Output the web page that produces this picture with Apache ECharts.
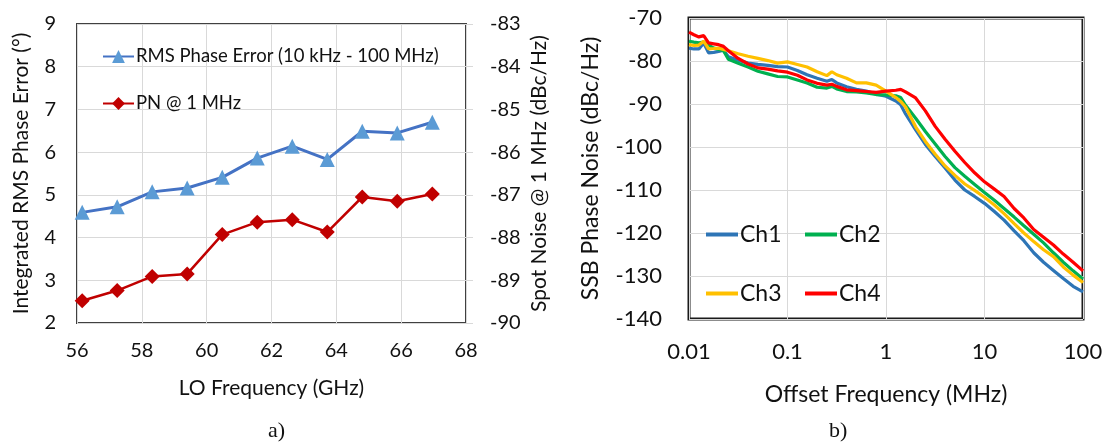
<!DOCTYPE html>
<html>
<head>
<meta charset="utf-8">
<script src="https://cdn.jsdelivr.net/npm/echarts@6/dist/echarts.min.js"></script>
<style>
  html, body { margin: 0; padding: 0; background: #fff; }
  #chart { width: 1110px; height: 448px; }
</style>
</head>
<body>
<div id="chart"></div>
<script>
// ---- a) RMS phase error and spot noise versus LO frequency ----
const loFreqGHz = [56.16, 57.24, 58.32, 59.40, 60.48, 61.56, 62.64, 63.72, 64.80, 65.88, 66.96];
const rmsPhaseErrDeg = [4.59, 4.72, 5.07, 5.16, 5.41, 5.86, 6.14, 5.83, 6.49, 6.45, 6.70];
const pnAt1MHz = [-89.48, -89.24, -88.91, -88.85, -87.93, -87.64, -87.58, -87.87, -87.05, -87.15, -86.98];

// ---- b) SSB phase noise of the four channels ----
const offsetMHz = [0.01, 0.0112, 0.0126, 0.0141, 0.0158, 0.0178, 0.02, 0.0224, 0.0251, 0.0316,
  0.0398, 0.0501, 0.0631, 0.0794, 0.1, 0.126, 0.158, 0.2, 0.251, 0.282,
  0.316, 0.398, 0.501, 0.631, 0.794, 1, 1.26, 1.41, 1.58, 2.0,
  2.51, 3.16, 3.98, 5.01, 6.31, 7.94, 10, 12.6, 15.8, 20,
  25.1, 31.6, 39.8, 50.1, 63.1, 79.4, 100];
const ch1 = [-77.0, -77.2, -77.2, -75.8, -78.1, -78.0, -77.8, -77.5, -79.0, -79.8,
  -80.5, -80.8, -81.0, -81.3, -81.4, -82.2, -83.2, -84.0, -84.7, -84.3,
  -85.1, -86.0, -86.6, -87.0, -87.7, -88.2, -89.3, -90.2, -92.3, -96.0,
  -99.4, -102.2, -104.9, -107.7, -110.0, -111.5, -113.1, -115.0, -117.0, -119.5,
  -121.8, -124.6, -126.8, -128.7, -130.6, -132.4, -133.7];
const ch2 = [-75.4, -75.6, -75.8, -75.6, -76.3, -77.0, -77.3, -77.6, -79.6, -80.5,
  -81.4, -82.4, -83.0, -83.6, -83.7, -84.4, -85.1, -86.1, -86.3, -85.9,
  -86.5, -87.1, -87.2, -87.4, -87.8, -87.9, -88.1, -88.5, -90.3, -93.3,
  -96.4, -99.3, -102.2, -104.8, -106.8, -108.7, -110.6, -112.4, -114.3, -116.3,
  -118.3, -120.3, -122.3, -124.6, -126.8, -128.8, -130.7];
const ch3 = [-76.2, -76.4, -76.3, -75.4, -77.2, -77.1, -77.0, -77.3, -77.6, -78.3,
  -78.9, -79.4, -79.9, -80.5, -80.2, -80.8, -81.4, -82.5, -83.4, -82.5,
  -83.2, -84.0, -85.1, -85.1, -85.6, -87.0, -88.5, -89.4, -90.7, -95.3,
  -98.7, -101.7, -104.4, -106.6, -108.6, -110.1, -111.7, -113.5, -115.5, -117.8,
  -120.0, -122.0, -123.9, -125.5, -127.9, -129.8, -131.5];
const ch4 = [-73.3, -73.9, -74.4, -74.1, -75.8, -76.0, -76.2, -76.6, -77.6, -79.4,
  -80.7, -81.6, -81.9, -82.3, -82.6, -83.3, -84.4, -85.2, -85.6, -85.4,
  -85.9, -86.7, -86.9, -87.1, -87.3, -87.0, -86.8, -86.6, -87.2, -88.6,
  -91.6, -95.2, -98.2, -101.0, -103.6, -106.0, -108.1, -109.8, -111.5, -114.3,
  -116.5, -119.2, -121.0, -122.8, -124.9, -126.8, -128.8];

const FONT = 'Lato, "Open Sans", sans-serif';
const TEXT = '#111';
const GRID_LINE = { show: true, lineStyle: { color: '#d9d9d9', width: 1 } };

const pairs = (xs, ys) => xs.map((x, i) => [x, ys[i]]);

const chart = echarts.init(document.getElementById('chart'), null, { renderer: 'canvas' });

// legend entry with line + marker (panel a)
const markerLegend = (name, left, top) => ({
  data: [name], left: left, top: top, orient: 'horizontal',
  itemWidth: 31, itemHeight: 16, selectedMode: false,
  textStyle: { fontFamily: FONT, fontSize: 18.5, color: TEXT, padding: [0, 0, 0, -3] }
});
// legend entry with a plain line swatch (panel b)
const lineLegend = (name, left, top) => ({
  data: [name], left: left, top: top, orient: 'horizontal',
  icon: 'rect', itemWidth: 32, itemHeight: 4, selectedMode: false,
  textStyle: { fontFamily: FONT, fontSize: 23, color: TEXT, padding: [0, 0, 0, -3] }
});

chart.setOption({
  animation: false,
  grid: [
    { left: 77, top: 24, width: 389, height: 299, show: true,
      borderColor: '#404040', borderWidth: 2, backgroundColor: '#fff' },
    { left: 689, top: 18, width: 394, height: 301, show: true,
      borderColor: '#1a1a1a', borderWidth: 3, backgroundColor: '#fff' }
  ],
  legend: [
    markerLegend('RMS Phase Error (10 kHz - 100 MHz)', 97, 42),
    markerLegend('PN @ 1 MHz', 97, 89),
    lineLegend('Ch1', 701, 218),
    lineLegend('Ch2', 800, 218),
    lineLegend('Ch3', 701, 277),
    lineLegend('Ch4', 800, 277)
  ],
  xAxis: [
    { type: 'value', gridIndex: 0, min: 56, max: 68, interval: 2,
      name: 'LO Frequency (GHz)', nameLocation: 'middle', nameGap: 55,
      nameTextStyle: { fontFamily: FONT, fontSize: 21, color: TEXT },
      axisLine: { show: false }, axisTick: { show: false },
      axisLabel: { fontFamily: FONT, fontSize: 20, color: TEXT, margin: 18 },
      splitLine: GRID_LINE },
    { type: 'log', gridIndex: 1, logBase: 10, min: 0.01, max: 100,
      name: 'Offset Frequency (MHz)', nameLocation: 'middle', nameGap: 64,
      nameTextStyle: { fontFamily: FONT, fontSize: 23, color: TEXT },
      axisLine: { show: false }, axisTick: { show: false },
      axisLabel: { fontFamily: FONT, fontSize: 22, color: TEXT, margin: 22,
        formatter: v => String(Number(v.toPrecision(3))) },
      splitLine: GRID_LINE }
  ],
  yAxis: [
    { type: 'value', gridIndex: 0, min: 2, max: 9, interval: 1,
      name: 'Integrated RMS Phase Error (°)', nameLocation: 'middle', nameGap: 45, nameRotate: 90,
      nameTextStyle: { fontFamily: FONT, fontSize: 21, color: TEXT },
      axisLine: { show: false }, axisTick: { show: false },
      axisLabel: { fontFamily: FONT, fontSize: 20, color: TEXT, margin: 21 },
      splitLine: GRID_LINE },
    { type: 'value', gridIndex: 0, position: 'right', min: -90, max: -83, interval: 1,
      name: 'Spot Noise @ 1 MHz (dBc/Hz)', nameLocation: 'middle', nameGap: 63, nameRotate: 90,
      nameTextStyle: { fontFamily: FONT, fontSize: 21, color: TEXT },
      axisLine: { show: false },
      axisTick: { show: true, length: 7, lineStyle: { color: '#d9d9d9' } },
      axisLabel: { fontFamily: FONT, fontSize: 20, color: TEXT, margin: 24 },
      splitLine: { show: false } },
    { type: 'value', gridIndex: 1, min: -140, max: -70, interval: 10,
      name: 'SSB Phase Noise (dBc/Hz)', nameLocation: 'middle', nameGap: 87, nameRotate: 90,
      nameTextStyle: { fontFamily: FONT, fontSize: 23, color: TEXT },
      axisLine: { show: false }, axisTick: { show: false },
      axisLabel: { fontFamily: FONT, fontSize: 22, color: TEXT, margin: 27 },
      splitLine: GRID_LINE }
  ],
  series: [
    { name: 'RMS Phase Error (10 kHz - 100 MHz)', type: 'line', xAxisIndex: 0, yAxisIndex: 0,
      data: pairs(loFreqGHz, rmsPhaseErrDeg),
      symbol: 'triangle', symbolSize: 15,
      itemStyle: { color: '#5b9bd5' }, lineStyle: { color: '#4472c4', width: 3 } },
    { name: 'PN @ 1 MHz', type: 'line', xAxisIndex: 0, yAxisIndex: 1,
      data: pairs(loFreqGHz, pnAt1MHz),
      symbol: 'diamond', symbolSize: 15,
      itemStyle: { color: '#c00000' }, lineStyle: { color: '#c00000', width: 2.5 } },
    { name: 'Ch1', type: 'line', xAxisIndex: 1, yAxisIndex: 2, data: pairs(offsetMHz, ch1),
      showSymbol: false, symbol: 'none', itemStyle: { color: '#2e75b6' }, lineStyle: { color: '#2e75b6', width: 3.2 } },
    { name: 'Ch2', type: 'line', xAxisIndex: 1, yAxisIndex: 2, data: pairs(offsetMHz, ch2),
      showSymbol: false, symbol: 'none', itemStyle: { color: '#00b050' }, lineStyle: { color: '#00b050', width: 3.2 } },
    { name: 'Ch3', type: 'line', xAxisIndex: 1, yAxisIndex: 2, data: pairs(offsetMHz, ch3),
      showSymbol: false, symbol: 'none', itemStyle: { color: '#ffc000' }, lineStyle: { color: '#ffc000', width: 3.2 } },
    { name: 'Ch4', type: 'line', xAxisIndex: 1, yAxisIndex: 2, data: pairs(offsetMHz, ch4),
      showSymbol: false, symbol: 'none', itemStyle: { color: '#ff0000' }, lineStyle: { color: '#ff0000', width: 3.2 } }
  ],
  graphic: [
    { type: 'text', left: 268, top: 420,
      style: { text: 'a)', font: '22px "Liberation Serif", serif', fill: TEXT } },
    { type: 'text', left: 829, top: 420,
      style: { text: 'b)', font: '22px "Liberation Serif", serif', fill: TEXT } }
  ]
});
</script>
</body>
</html>
